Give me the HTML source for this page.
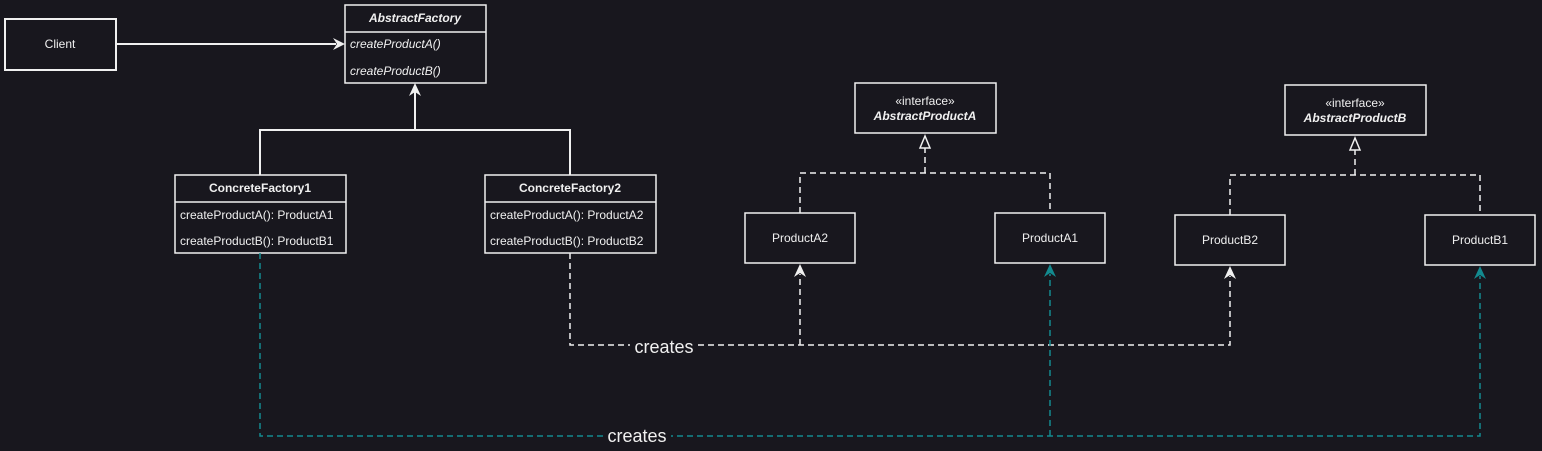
<!DOCTYPE html>
<html><head><meta charset="utf-8"><style>
html,body{margin:0;padding:0;background:#18171e;}
svg{display:block}
text{font-family:"Liberation Sans",sans-serif;fill:#f0f0f0;}
</style></head><body>
<svg width="1542" height="451" xmlns="http://www.w3.org/2000/svg">
<rect width="1542" height="451" fill="#18171e"/>
<g fill="none" stroke="#f0f0f0" stroke-width="1.5">
<rect x="5" y="19" width="111" height="51" stroke-width="2"/>
<rect x="345" y="5" width="141" height="78"/><line x1="345" y1="32" x2="486" y2="32"/>
<rect x="175" y="175" width="171" height="78"/><line x1="175" y1="202" x2="346" y2="202"/>
<rect x="485" y="175" width="171" height="78"/><line x1="485" y1="202" x2="656" y2="202"/>
<rect x="855" y="83" width="141" height="50"/>
<rect x="1285" y="85" width="141" height="50"/>
<rect x="745" y="213" width="110" height="50"/>
<rect x="995" y="213" width="110" height="50"/>
<rect x="1175" y="215" width="110" height="50"/>
<rect x="1425" y="215" width="110" height="50"/>
</g>
<g fill="none" stroke="#f0f0f0" stroke-width="2">
<line x1="116" y1="44" x2="336" y2="44"/>
<polyline points="260,175 260,130 570,130 570,175"/>
<line x1="415" y1="130" x2="415" y2="92"/>
</g>
<polygon points="345,44 333,38 337,44 333,50" fill="#f0f0f0"/>
<polygon points="415,83 409,96 415,92 421,96" fill="#f0f0f0"/>
<g fill="none" stroke="#f0f0f0" stroke-width="1.5" stroke-dasharray="6,4">
<polyline points="800,213 800,173 1050,173 1050,213"/>
<line x1="925" y1="173" x2="925" y2="148"/>
<polyline points="1230,215 1230,175 1480,175 1480,215"/>
<line x1="1355" y1="175" x2="1355" y2="150"/>
<polyline points="570,253 570,345 1230,345 1230,276"/>
<line x1="800" y1="345" x2="800" y2="274"/>
</g>
<polygon points="925,136 920,148 930,148" fill="#18171e" stroke="#f0f0f0" stroke-width="1.5"/>
<polygon points="1355,138 1350,150 1360,150" fill="#18171e" stroke="#f0f0f0" stroke-width="1.5"/>
<polygon points="800,264 794,277 800,273 806,277" fill="#f0f0f0"/>
<polygon points="1230,266 1224,279 1230,275 1236,279" fill="#f0f0f0"/>
<g fill="none" stroke="#138a8f" stroke-width="1.5" stroke-dasharray="6,4">
<polyline points="260,253 260,436 1480,436 1480,276"/>
<line x1="1050" y1="436" x2="1050" y2="274"/>
</g>
<polygon points="1050,264 1044,277 1050,273 1056,277" fill="#138a8f"/>
<polygon points="1480,266 1474,279 1480,275 1486,279" fill="#138a8f"/>
<rect x="630" y="336" width="68" height="20" fill="#18171e"/>
<rect x="603" y="426" width="68" height="20" fill="#18171e"/>
<text x="664" y="353" font-size="18" text-anchor="middle">creates</text>
<text x="637" y="442" font-size="18" text-anchor="middle">creates</text>
<g font-size="12">
<text x="60" y="48" text-anchor="middle">Client</text>
<text x="415" y="22" text-anchor="middle" font-weight="bold" font-style="italic">AbstractFactory</text>
<text x="350" y="48" font-style="italic">createProductA()</text>
<text x="350" y="75" font-style="italic">createProductB()</text>
<text x="260" y="192" text-anchor="middle" font-weight="bold">ConcreteFactory1</text>
<text x="180" y="219">createProductA(): ProductA1</text>
<text x="180" y="245">createProductB(): ProductB1</text>
<text x="570" y="192" text-anchor="middle" font-weight="bold">ConcreteFactory2</text>
<text x="490" y="219">createProductA(): ProductA2</text>
<text x="490" y="245">createProductB(): ProductB2</text>
<text x="925" y="105" text-anchor="middle">«interface»</text>
<text x="925" y="120" text-anchor="middle" font-weight="bold" font-style="italic">AbstractProductA</text>
<text x="1355" y="107" text-anchor="middle">«interface»</text>
<text x="1355" y="122" text-anchor="middle" font-weight="bold" font-style="italic">AbstractProductB</text>
<text x="800" y="242" text-anchor="middle">ProductA2</text>
<text x="1050" y="242" text-anchor="middle">ProductA1</text>
<text x="1230" y="244" text-anchor="middle">ProductB2</text>
<text x="1480" y="244" text-anchor="middle">ProductB1</text>
</g>
</svg>
</body></html>
